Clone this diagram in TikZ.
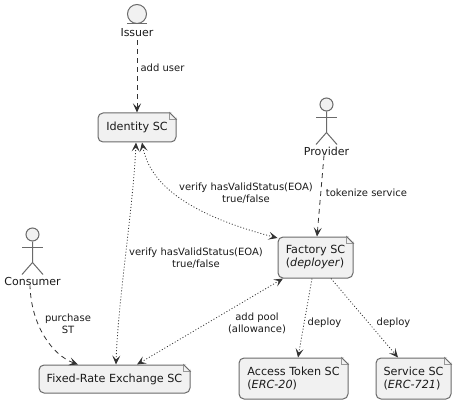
\documentclass[tikz,border=0pt]{standalone}
\usepackage{fontspec}
\setmainfont{DejaVu Sans}
\usepackage{xcolor}
\usetikzlibrary{arrows.meta}
\definecolor{notefill}{HTML}{F1F1F1}
\definecolor{noteline}{HTML}{6A6A6A}
\definecolor{textcol}{HTML}{1A1A1A}
\definecolor{flowcol}{HTML}{333333}
\tikzset{
    sc/.style={draw=noteline, fill=notefill, line width=1pt, rounded corners=5pt, inner sep=0pt, font=\fontsize{11.2pt}{13pt}\selectfont, text=textcol},
    lbl/.style={inner sep=0pt, align=center, font=\fontsize{10pt}{12pt}\selectfont, text=textcol},
    actorname/.style={inner sep=1pt, font=\fontsize{11pt}{13pt}\selectfont, text=textcol},
    dashflow/.style={<-, draw=flowcol, line width=0.8pt, dash pattern=on 5pt off 4pt},
    dotflow/.style={draw=flowcol, line width=0.8pt, dash pattern=on 1pt off 2pt},
    stick/.style={draw=noteline, line width=1pt},
    headball/.style={circle, stick, fill=notefill, inner sep=0pt}
}
\newcommand{\fold}[1]{
    \fill[white] ([xshift=-7pt]#1.north east) -- (#1.north east) -- ([yshift=-7pt]#1.north east) -- cycle;
    \draw[noteline!70, line width=0.7pt, fill=notefill] ([xshift=-7pt]#1.north east) -- ([yshift=-7pt]#1.north east) -- ([xshift=-7pt,yshift=-7pt]#1.north east) -- cycle;
    \draw[noteline, line width=1pt] ([xshift=-7pt]#1.north east) -- ([yshift=-7pt]#1.north east);
}
\newcommand{\limbs}[1]{
    \draw[stick] (#1.south) -- ++(0,21) -- ++(-10.5,12);
    \draw[stick] (#1.south) ++(0,21) -- ++(10.5,12);
    \draw[stick] (#1.south) ++(-10.5,6) -- ++(21,0);
}
\begin{document}
\begin{tikzpicture}[x=1pt, y=-1pt, >={Stealth[length=9pt, width=8pt, inset=4pt]}]
    \useasboundingbox (0,0) rectangle (457,406);
    % notes
    \node[sc, minimum width=78pt, minimum height=29pt] (identity) at (137,127.5) {Identity SC};
    \node[sc, minimum width=75pt, minimum height=41pt, align=left] (factory) at (315.5,257.5) {Factory SC\\(\textit{deployer})};
    \node[sc, minimum width=151pt, minimum height=28pt] (fixedrate) at (114.5,379) {Fixed-Rate Exchange SC};
    \node[sc, minimum width=109pt, minimum height=41pt, align=left] (accesstoken) at (293.5,378.5) {Access Token SC\\(\textit{ERC-20})};
    \node[sc, minimum width=75pt, minimum height=41pt, align=left] (service) at (413.5,378.5) {Service SC\\(\textit{ERC-721})};
    \foreach \n in {identity,factory,fixedrate,accesstoken,service}{\fold{\n}}
    % issuer
    \node[headball, minimum size=19pt] (issuerhead) at (137,14) {};
    \draw[stick] (127,24) -- (147,24);
    \node[actorname] (issuer) at (137,33) {Issuer};
    % provider
    \node[headball, minimum size=13pt] (providerhead) at (326.5,104.5) {};
    \limbs{providerhead}
    \node[actorname] (provider) at (326.5,151) {Provider};
    % consumer
    \node[headball, minimum size=13pt] (consumerhead) at (32.5,234.5) {};
    \limbs{consumerhead}
    \node[actorname] (consumer) at (32.5,281) {Consumer};
    % flows
    \draw[dashflow] (identity.north) -- ([yshift=1pt]issuer.south);
    \draw[dashflow] ([xshift=1.5pt]factory.north) -- ([xshift=-2.5pt,yshift=1pt]provider.south);
    \draw[dashflow] ([xshift=-36.5pt]fixedrate.north) .. controls (52,355) and (31,325) .. ([xshift=-2.5pt,yshift=1pt]consumer.south);
    \draw[dotflow, <->] ([xshift=5pt]identity.south) .. controls (150,185) and (190,215) .. ([yshift=-1.5pt]factory.north west);
    \draw[dotflow, <->] ([xshift=-1pt]identity.south) .. controls (133,210) and (118,300) .. ([xshift=1.5pt]fixedrate.north);
    \draw[dotflow, <->] ([xshift=-32.5pt]factory.south) -- ([xshift=22.5pt]fixedrate.north);
    \draw[dotflow, ->] ([xshift=-3.5pt]factory.south) -- ([xshift=4.5pt]accesstoken.north);
    \draw[dotflow, ->] ([xshift=15.5pt]factory.south) -- ([xshift=-15.5pt]service.north);
    % labels
    \node[lbl] (adduser) at (162.5,68) {add user};
    \node[lbl] (tokenize) at (366.5,193) {tokenize service};
    \node[lbl] (verifya) at (246,193) {verify hasValidStatus(EOA)\\true/false};
    \node[lbl] (verifyb) at (196,258) {verify hasValidStatus(EOA)\\true/false};
    \node[lbl] (purchase) at (68,323.5) {purchase\\ST};
    \node[lbl] (addpool) at (257,323.5) {add pool\\(allowance)};
    \node[lbl] (deploya) at (324.5,323) {deploy};
    \node[lbl] (deployb) at (393.5,323) {deploy};
\end{tikzpicture}
\end{document}
